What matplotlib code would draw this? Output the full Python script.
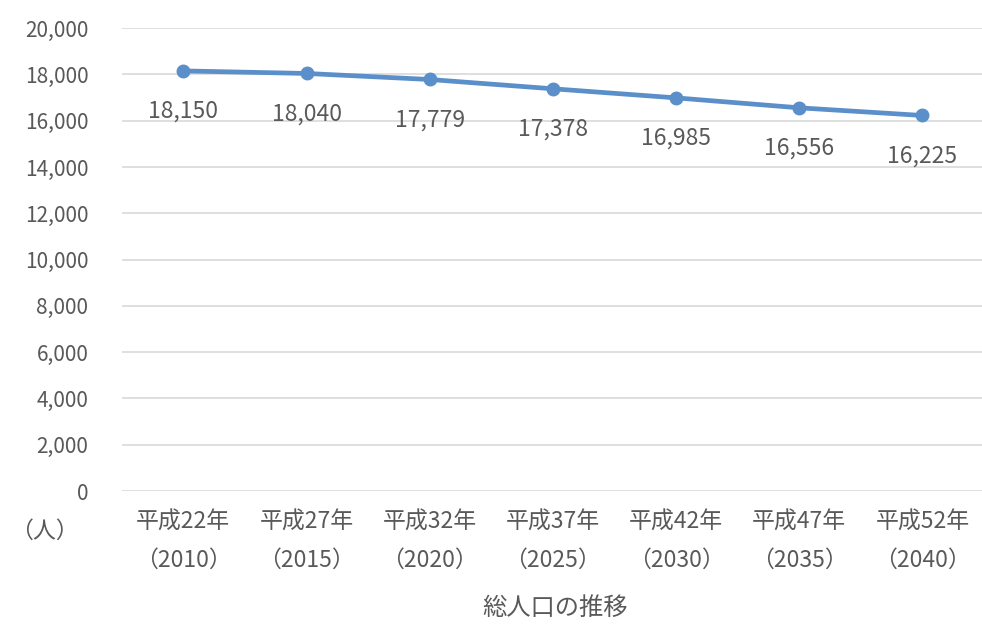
import matplotlib.pyplot as plt
from matplotlib.ticker import FuncFormatter

plt.rcParams['font.family'] = ['Noto Sans CJK JP', 'DejaVu Sans']

# 年次（和暦・西暦）と総人口
years_jp = ["平成22年", "平成27年", "平成32年", "平成37年", "平成42年", "平成47年", "平成52年"]
years_ad = ["2010", "2015", "2020", "2025", "2030", "2035", "2040"]
population = [18150, 18040, 17779, 17378, 16985, 16556, 16225]

line_color = '#5B8FC9'
text_color = '#595959'
grid_color = '#D9D9D9'

fig = plt.figure(figsize=(9.82, 6.24), dpi=100)
ax = fig.add_axes([0.124, 0.213, 0.878, 0.742])

x = list(range(len(population)))
ax.plot(x, population, color=line_color, linewidth=3.4, marker='o',
        markersize=9, zorder=3)

# データラベル（点の下）
for xi, v in zip(x, population):
    ax.annotate(f"{v:,}", (xi, v), xytext=(0, -29), textcoords='offset points',
                ha='center', va='center', fontsize=16.5, color=text_color)

ax.set_xlim(-0.5, len(population) - 0.5)
ax.set_ylim(0, 20000)
ax.set_yticks(range(0, 20001, 2000))
ax.yaxis.set_major_formatter(FuncFormatter(lambda v, p: f"{int(v):,}"))
ax.set_xticks(x)
ax.set_xticklabels([f"{a}\n（{b}）" for a, b in zip(years_jp, years_ad)],
                   fontsize=16.5, color=text_color, linespacing=1.85)
ax.tick_params(axis='y', labelsize=15, labelcolor=text_color, length=0, pad=24)
ax.tick_params(axis='x', length=0, pad=14)

ax.grid(axis='y', color=grid_color, linewidth=1.2)
ax.set_axisbelow(True)
for s in ax.spines.values():
    s.set_visible(False)

fig.text(0.045, 0.148, "（人）", fontsize=16.5, color=text_color, ha='center', va='center')
fig.text(0.565, 0.026, "総人口の推移", fontsize=17.5, color=text_color, ha='center', va='center')

fig.savefig("out.png", dpi=100)
